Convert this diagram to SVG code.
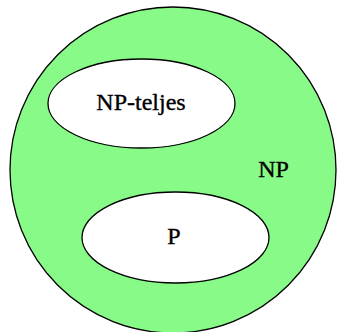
<svg xmlns="http://www.w3.org/2000/svg" width="339" height="332" viewBox="0 0 339 332">
<style>
.set{stroke:#000;stroke-width:1.3}
.lbl{font-family:"Liberation Serif",serif;font-size:24px;fill:#000;stroke:#000;stroke-width:0.35;text-anchor:middle}
</style>
<rect width="339" height="332" fill="#fff"/>
<g id="np">
<circle class="set" cx="173" cy="170" r="163" fill="#88fa88"/>
<text class="lbl" x="273.5" y="176.5">NP</text>
</g>
<g id="npc">
<ellipse class="set" cx="141.5" cy="103.5" rx="93.5" ry="44.5" fill="#fff"/>
<text class="lbl" x="141" y="110">NP-teljes</text>
</g>
<g id="p">
<ellipse class="set" cx="175.5" cy="237.5" rx="93.5" ry="45.5" fill="#fff"/>
<text class="lbl" x="174" y="244">P</text>
</g>
<g id="connectors"/>
</svg>
